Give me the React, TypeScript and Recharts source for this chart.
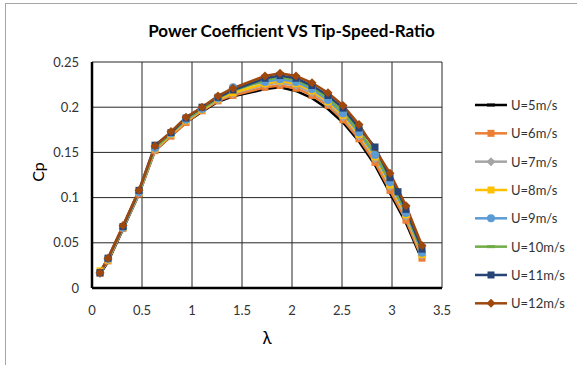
import React from 'react';
import { LineChart, Line, XAxis, YAxis, CartesianGrid } from 'recharts';

// tip speed ratio (x) shared by all series
const lambda = [0.08, 0.16, 0.31, 0.47, 0.63, 0.79, 0.94, 1.1, 1.26, 1.41, 1.73, 1.88, 2.04, 2.2, 2.36, 2.51, 2.67, 2.83, 2.98, 3.06, 3.14, 3.3];

const cpU5 = [0.015, 0.029, 0.065, 0.104, 0.152, 0.168, 0.183, 0.195, 0.206, 0.212, 0.22, 0.222, 0.218, 0.21, 0.198, 0.183, 0.162, 0.136, 0.105, null, 0.072, 0.031];
const cpU6 = [0.016, 0.03, 0.066, 0.104, 0.152, 0.168, 0.183, 0.196, 0.207, 0.213, 0.222, 0.224, 0.221, 0.213, 0.202, 0.186, 0.165, 0.139, 0.108, null, 0.075, 0.033];
const cpU7 = [0.016, 0.031, 0.066, 0.105, 0.153, 0.17, 0.185, 0.197, 0.208, 0.215, 0.225, 0.227, 0.224, 0.216, 0.204, 0.189, 0.168, 0.143, 0.112, null, 0.079, 0.036];
const cpU8 = [0.019, 0.031, 0.067, 0.106, 0.154, 0.17, 0.185, 0.197, 0.209, 0.216, 0.226, 0.229, 0.226, 0.218, 0.206, 0.191, 0.17, 0.145, 0.114, null, 0.081, 0.037];
const cpU9 = [0.017, 0.032, 0.067, 0.106, 0.155, 0.171, 0.186, 0.198, 0.21, 0.222, 0.228, 0.231, 0.228, 0.22, 0.208, 0.193, 0.172, 0.147, 0.117, null, 0.083, 0.039];
const cpU10 = [0.017, 0.032, 0.068, 0.107, 0.155, 0.171, 0.187, 0.198, 0.21, 0.218, 0.23, 0.233, 0.23, 0.222, 0.21, 0.195, 0.174, 0.149, 0.119, null, 0.085, 0.041];
const cpU11 = [0.017, 0.033, 0.068, 0.108, 0.158, 0.172, 0.188, 0.2, 0.211, 0.219, 0.232, 0.235, 0.232, 0.224, 0.213, 0.199, 0.177, 0.156, 0.122, 0.1065, 0.087, 0.043];
const cpU12 = [0.017, 0.033, 0.069, 0.108, 0.157, 0.173, 0.189, 0.2, 0.2125, 0.221, 0.2345, 0.2375, 0.2345, 0.227, 0.216, 0.202, 0.181, null, 0.127, null, 0.091, 0.047];

const xTicks = [0, 0.5, 1, 1.5, 2, 2.5, 3, 3.5];
const yTicks = [0, 0.05, 0.1, 0.15, 0.2, 0.25];

type Shape = 'dash' | 'square' | 'diamond' | 'circle';

const series: { key: string; name: string; color: string; shape: Shape; values: (number | null)[] }[] = [
  { key: 'u5', name: 'U=5m/s', color: '#000000', shape: 'dash', values: cpU5 },
  { key: 'u6', name: 'U=6m/s', color: '#ED7D31', shape: 'square', values: cpU6 },
  { key: 'u7', name: 'U=7m/s', color: '#A5A5A5', shape: 'diamond', values: cpU7 },
  { key: 'u8', name: 'U=8m/s', color: '#FFC000', shape: 'square', values: cpU8 },
  { key: 'u9', name: 'U=9m/s', color: '#5B9BD5', shape: 'circle', values: cpU9 },
  { key: 'u10', name: 'U=10m/s', color: '#70AD47', shape: 'dash', values: cpU10 },
  { key: 'u11', name: 'U=11m/s', color: '#264478', shape: 'square', values: cpU11 },
  { key: 'u12', name: 'U=12m/s', color: '#9E480E', shape: 'diamond', values: cpU12 },
];

const data = lambda.map((l, i) => {
  const row: Record<string, number | null> = { lambda: l };
  series.forEach((s) => {
    row[s.key] = s.values[i];
  });
  return row;
});

const FONT = 'Lato, "Open Sans", sans-serif';

function marker(shape: Shape, cx: number, cy: number, color: string, key?: string | number) {
  if (shape === 'square') {
    return <rect key={key} x={cx - 3.5} y={cy - 3.5} width={7} height={7} fill={color} />;
  }
  if (shape === 'diamond') {
    return <path key={key} d={`M${cx},${cy - 4.5}L${cx + 4.5},${cy}L${cx},${cy + 4.5}L${cx - 4.5},${cy}Z`} fill={color} />;
  }
  if (shape === 'circle') {
    return <circle key={key} cx={cx} cy={cy} r={4} fill={color} />;
  }
  return <rect key={key} x={cx - 4} y={cy - 1.5} width={8} height={3} fill={color} />;
}

function makeDot(shape: Shape, color: string) {
  return (props: any) => {
    const { cx, cy, index, value } = props;
    if (cx == null || cy == null || value == null || shape === 'dash') return <g key={index} />;
    return marker(shape, cx, cy, color, index);
  };
}

export default function App() {
  return (
    <div style={{ position: 'absolute', left: 0, top: 0, width: 577, height: 365, overflow: 'hidden', background: '#fff' }}>
      <div
        style={{
          position: 'absolute',
          left: 5,
          top: 3,
          width: 700,
          height: 500,
          borderLeft: '1px solid #a6a6a6',
          borderTop: '1px solid #a6a6a6',
        }}
      />
      <div
        style={{
          position: 'absolute',
          left: 0,
          top: 20,
          width: 583,
          textAlign: 'center',
          fontFamily: FONT,
          fontWeight: 700,
          fontSize: 17,
          lineHeight: '22px',
          color: '#000',
        }}
      >
        Power Coefficient VS Tip-Speed-Ratio
      </div>
      <div style={{ position: 'absolute', left: 0, top: 0 }}>
        <LineChart width={577} height={365} data={data} margin={{ top: 62, right: 135, left: 0, bottom: 47 }}>
          <CartesianGrid stroke="#262626" strokeWidth={1} />
          <XAxis
            dataKey="lambda"
            type="number"
            domain={[0, 3.5]}
            ticks={xTicks}
            interval={0}
            height={30}
            tickLine={false}
            tickSize={6}
            tickMargin={12}
            axisLine={{ stroke: '#000', strokeWidth: 2.5 }}
            tick={{ fill: '#333', fontSize: 13, fontFamily: FONT }}
            label={{
              content: () => (
                <text x={267} y={337} textAnchor="middle" dominantBaseline="central" fontFamily={FONT} fontSize={17} fill="#000">
                  λ
                </text>
              ),
            }}
          />
          <YAxis
            type="number"
            domain={[0, 0.25]}
            ticks={yTicks}
            interval={0}
            width={92}
            tickLine={false}
            tickSize={6}
            tickMargin={7}
            axisLine={{ stroke: '#000', strokeWidth: 2.5 }}
            tick={{ fill: '#333', fontSize: 13, fontFamily: FONT }}
            label={{
              content: () => (
                <text
                  x={37}
                  y={172}
                  textAnchor="middle"
                  dominantBaseline="central"
                  transform="rotate(-90 37 172)"
                  fontFamily={FONT}
                  fontSize={16}
                  fill="#000"
                >
                  Cp
                </text>
              ),
            }}
          />
          {series.map((s) => (
            <Line
              key={s.key}
              dataKey={s.key}
              name={s.name}
              type="linear"
              stroke={s.color}
              strokeWidth={2.5}
              dot={makeDot(s.shape, s.color)}
              activeDot={false}
              connectNulls
              isAnimationActive={false}
            />
          ))}
        </LineChart>
      </div>
      <svg style={{ position: 'absolute', left: 0, top: 0 }} width={577} height={365}>
        {series.map((s, i) => {
          const cy = 105 + i * 28.33;
          return (
            <g key={s.key}>
              <line x1={475} x2={507} y1={cy} y2={cy} stroke={s.color} strokeWidth={2.5} />
              {marker(s.shape, 491, cy, s.color)}
              <text x={511} y={cy} dominantBaseline="central" fontFamily={FONT} fontSize={13} fill="#333">
                {s.name}
              </text>
            </g>
          );
        })}
      </svg>
    </div>
  );
}
